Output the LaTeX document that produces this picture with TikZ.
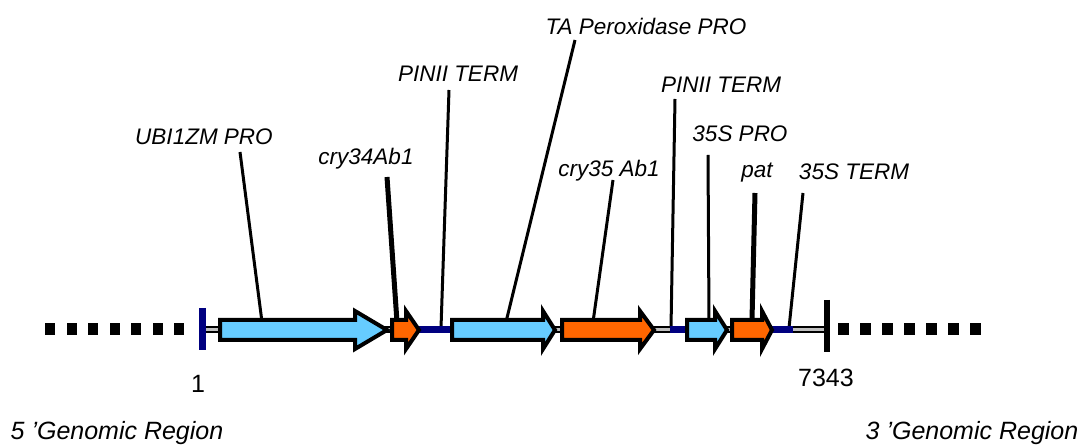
\documentclass[tikz,border=0pt]{standalone}
\usepackage{fontspec}
\setmainfont{Liberation Sans}
\usepackage{tikz}
\usetikzlibrary{calc}

\definecolor{geneblue}{RGB}{102,204,255}
\definecolor{geneorange}{RGB}{255,102,0}
\definecolor{spacernavy}{RGB}{0,0,128}
\definecolor{backbonegray}{RGB}{192,192,192}

% block arrow: start, head base, tip, fill colour
\newcommand{\genearrow}[4]{%
\draw[line width=2pt, line join=miter, fill=#4] (#1,320) -- (#2,320) -- (#2,311) -- (#3,330) -- (#2,349) -- (#2,340) -- (#1,340) -- cycle;}

\begin{document}
\begin{tikzpicture}[x=0.5pt, y=-0.5pt,
  lbl/.style={anchor=base, inner sep=0pt, font=\fontsize{11.25}{13}\selectfont\itshape},
  endlbl/.style={anchor=base, inner sep=0pt, font=\fontsize{12.5}{15}\selectfont},
  lead/.style={line width=1.5pt},
  leadthick/.style={line width=2.5pt}]
\useasboundingbox (0,0) rectangle (1088,448);

%Labels
\node[lbl] (ubi) at (204,145) {UBI1ZM PRO};
\node[lbl] (cry34) at (366,165) {cry34Ab1};
\node[lbl] (pin1) at (458,82) {PINII TERM};
\node[lbl] (taperox) at (646,35) {TA Peroxidase PRO};
\node[lbl] (cry35) at (609,177) {cry35 Ab1};
\node[lbl] (pin2) at (721,93) {PINII TERM};
\node[lbl] (s35pro) at (740,142) {35S PRO};
\node[lbl] (pat) at (757,178) {pat};
\node[lbl] (s35term) at (854,180) {35S TERM};

%Leader ends
\coordinate (ubi foot) at (262,322);
\coordinate (cry34 foot) at (397,322);
\coordinate (pin1 foot) at (441,328);
\coordinate (taperox foot) at (506,322);
\coordinate (cry35 foot) at (593,322);
\coordinate (pin2 foot) at (671,328);
\coordinate (s35pro foot) at (709,320);
\coordinate (pat foot) at (752,320);
\coordinate (s35term foot) at (789,328);

%Leaders
\draw[lead] ([xshift=18pt,yshift=-3.5pt]ubi.base) -- (ubi foot);
\draw[leadthick] ([xshift=10.5pt,yshift=-6pt]cry34.base) -- (cry34 foot);
\draw[lead] ([xshift=-4.5pt,yshift=-4pt]pin1.base) -- (pin1 foot);
\draw[lead] ([xshift=-35.5pt,yshift=-2.5pt]taperox.base) -- (taperox foot);
\draw[lead] ([xshift=2pt,yshift=-1.5pt]cry35.base) -- (cry35 foot);
\draw[lead] ([xshift=-23pt,yshift=-3pt]pin2.base) -- (pin2 foot);
\draw[lead] ([xshift=-16pt,yshift=-6.5pt]s35pro.base) -- (s35pro foot);
\draw[leadthick] ([xshift=-1pt,yshift=-7.5pt]pat.base) -- (pat foot);
\draw[lead] ([xshift=-25.5pt,yshift=-6.5pt]s35term.base) -- (s35term foot);

%Flanking genomic DNA
\foreach \i in {0,...,6} {
  \fill (45+21.5*\i,323) rectangle ++(10,12);
  \fill (838+22*\i,323) rectangle ++(11,12);
}

%Backbone
\draw[line width=3.5pt] (204,330) -- (826,330);
\draw[line width=1.5pt, backbonegray] (204,330) -- (826,330);
\draw[line width=3.5pt, spacernavy] (419,330) -- (452,330);
\draw[line width=3.5pt, spacernavy] (670,330) -- (687,330);
\draw[line width=3.5pt, spacernavy] (772,330) -- (793,330);

%Insert borders
\draw[line width=3.5pt, spacernavy] (202,308) -- (202,350);
\draw[line width=3pt] (827,300) -- (827,352);

%Genetic elements
\genearrow{220}{355}{387}{geneblue}
\genearrow{392}{406}{419}{geneorange}
\genearrow{452}{543}{555}{geneblue}
\genearrow{562}{640}{654}{geneorange}
\genearrow{687}{715}{727}{geneblue}
\genearrow{732}{762}{772}{geneorange}

%Positions
\node[endlbl] (first) at (198,393) {1};
\node[endlbl] (last) at (826,387) {7343};
\node[endlbl, font=\fontsize{12.5}{15}\selectfont\itshape] (five) at (117,440) {5 ’Genomic Region};
\node[endlbl, font=\fontsize{12.5}{15}\selectfont\itshape] (three) at (972,440) {3 ’Genomic Region};
\end{tikzpicture}
\end{document}
